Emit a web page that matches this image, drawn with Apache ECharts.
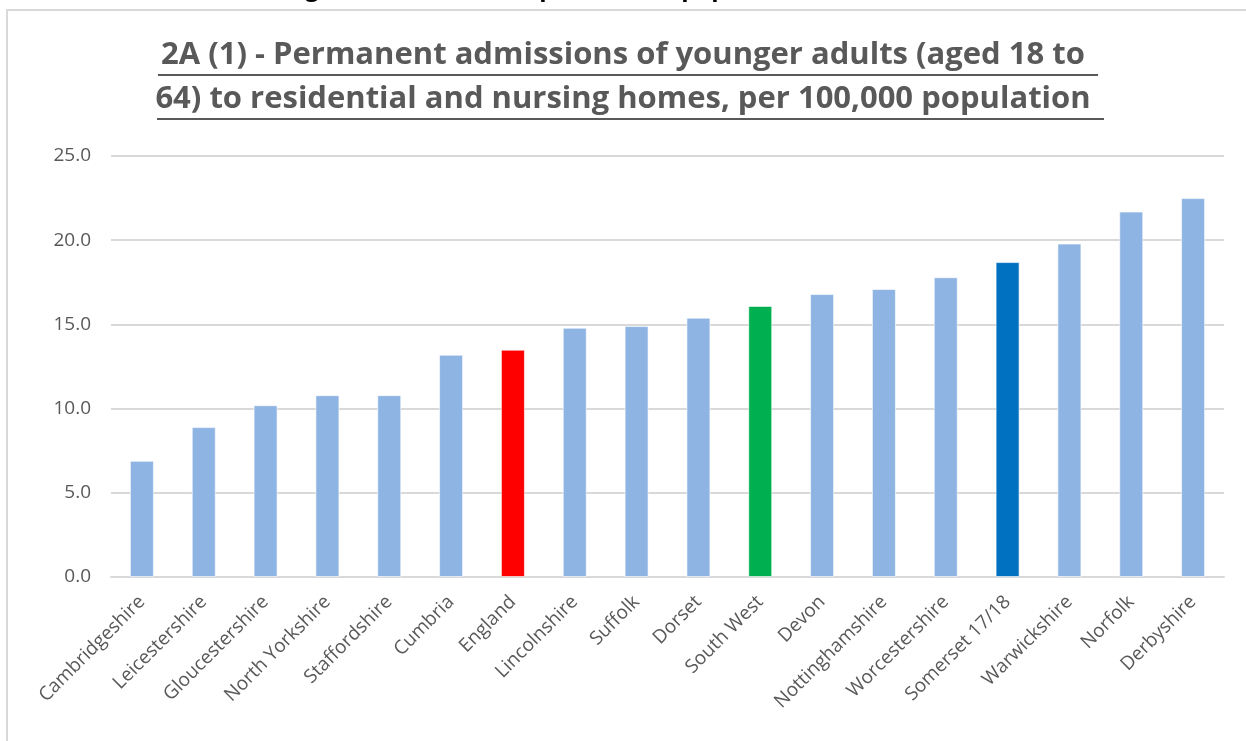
<!DOCTYPE html>
<html>
<head>
<meta charset="utf-8">
<script src="https://cdn.jsdelivr.net/npm/echarts@6/dist/echarts.min.js"></script>
<style>
  html, body { margin: 0; padding: 0; background: #fff; }
  #container { width: 1246px; height: 741px; }
</style>
</head>
<body>
<div id="container"></div>
<script>
// data
const areas = ['Cambridgeshire', 'Leicestershire', 'Gloucestershire', 'North Yorkshire', 'Staffordshire',
  'Cumbria', 'England', 'Lincolnshire', 'Suffolk', 'Dorset', 'South West', 'Devon',
  'Nottinghamshire', 'Worcestershire', 'Somerset 17/18', 'Warwickshire', 'Norfolk', 'Derbyshire'];
const admissions = [6.9, 8.9, 10.2, 10.8, 10.8, 13.2, 13.5, 14.8, 14.9, 15.4, 16.1, 16.8, 17.1, 17.8, 18.7, 19.8, 21.7, 22.5];
const highlight = { 'England': '#FF0000', 'South West': '#00B050', 'Somerset 17/18': '#0070C0' };
const yTicks = [0, 5, 10, 15, 20, 25];

const titleLines = ['2A (1) - Permanent admissions of younger adults (aged 18 to',
  '64) to residential and nursing homes, per 100,000 population'];

let chart = echarts.init(document.querySelector('#container'));
chart.setOption({
  animation: false,
  graphic: [
    // frame of the chart area
    { type: 'rect', shape: { x: 7, y: 10, width: 1260, height: 760 },
      style: { fill: 'none', stroke: '#d9d9d9', lineWidth: 2 } },
    // heading cut off at the top of the picture
    { type: 'text', left: 'center', top: -23,
      style: { text: 'Long-term admissions, per 100,000 population (ASCOF 2A (1))',
        font: 'bold 24px "Open Sans"', fill: '#000' } },
    { type: 'text', left: 'center', top: 40,
      style: { text: titleLines[0], font: 'bold 31px "Open Sans"', fill: '#595959' } },
    { type: 'text', left: 'center', top: 84,
      style: { text: titleLines[1], font: 'bold 31px "Open Sans"', fill: '#595959' } },
    { type: 'line', shape: { x1: 158, y1: 75, x2: 1098, y2: 75 }, style: { stroke: '#595959', lineWidth: 2 } },
    { type: 'line', shape: { x1: 157, y1: 119, x2: 1104, y2: 119 }, style: { stroke: '#595959', lineWidth: 2 } }
  ],
  grid: { left: 111, right: 22, top: 156, bottom: 164 },
  xAxis: {
    type: 'category',
    data: areas,
    axisLine: { lineStyle: { color: '#d9d9d9', width: 2 } },
    axisTick: { show: false },
    axisLabel: { rotate: 45, interval: 0, margin: 22, color: '#595959',
      fontFamily: 'Open Sans', fontSize: 19 }
  },
  yAxis: {
    type: 'value',
    min: yTicks[0],
    max: yTicks[yTicks.length - 1],
    interval: 5,
    axisLine: { show: false },
    axisTick: { show: false },
    splitLine: { lineStyle: { color: '#d9d9d9', width: 2 } },
    axisLabel: { color: '#595959', fontFamily: 'Open Sans', fontSize: 19, margin: 20,
      formatter: v => v.toFixed(1) }
  },
  series: [{
    type: 'bar',
    barWidth: 24,
    data: admissions.map((v, i) => ({
      value: v,
      itemStyle: { color: highlight[areas[i]] || '#8EB4E3' }
    })),
    itemStyle: { borderColor: 'rgba(255,255,255,0.6)', borderWidth: 1 }
  }]
});
</script>
</body>
</html>
